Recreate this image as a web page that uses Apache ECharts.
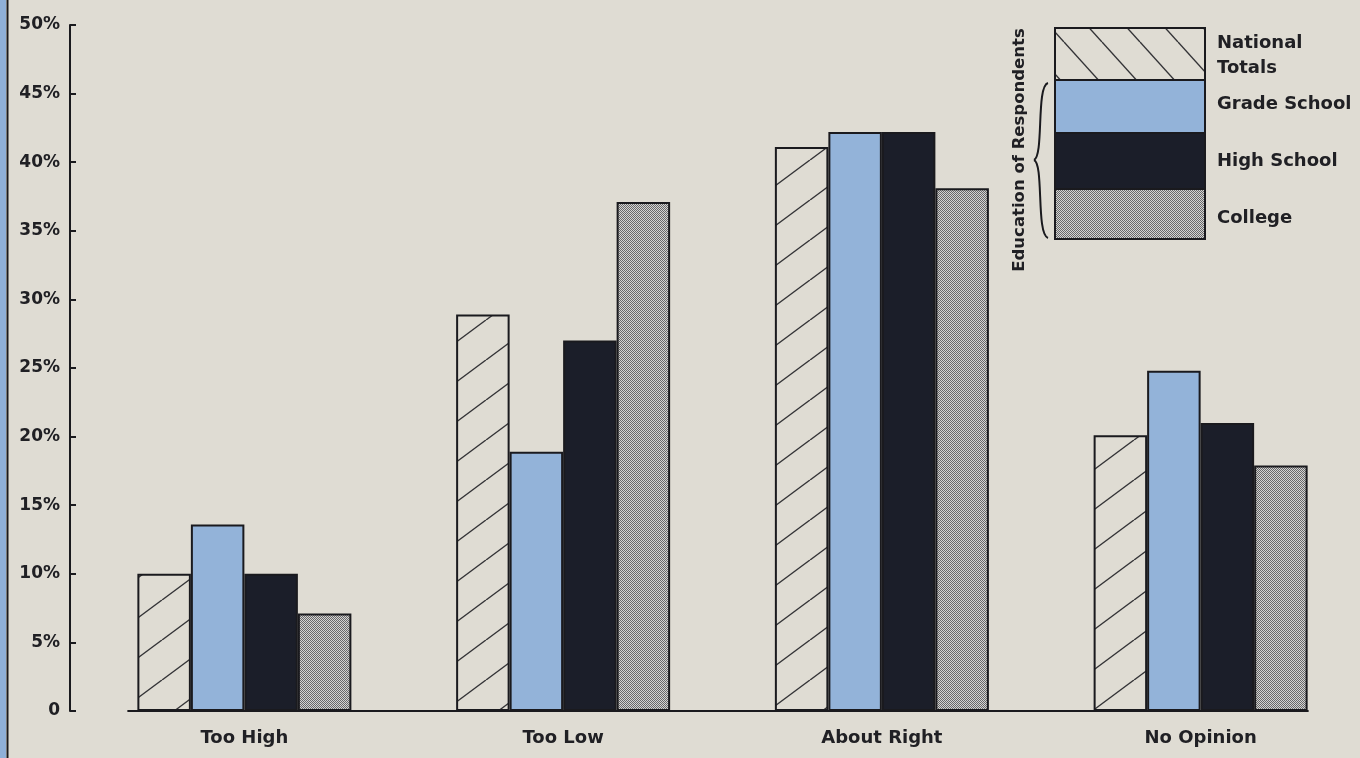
<!DOCTYPE html>
<html>
<head>
<meta charset="utf-8">
<script src="https://cdn.jsdelivr.net/npm/echarts@6/dist/echarts.min.js"></script>
<style>
html,body{margin:0;padding:0;background:#dfdcd3;}
#c{width:1360px;height:758px;}
</style>
</head>
<body>
<div id="c"></div>
<script>
const categories = ['Too High', 'Too Low', 'About Right', 'No Opinion'];
const seriesNames = ['National Totals', 'Grade School', 'High School', 'College'];
const nationalTotals = [10.0, 28.9, 41.1, 20.1];
const gradeSchool = [13.6, 18.9, 42.2, 24.8];
const highSchool = [10.0, 27.0, 42.2, 21.0];
const college = [7.1, 37.1, 38.1, 17.9];
const yMin = 0, yMax = 50, yStep = 5;
const legendLabels = [['National', 'Totals'], ['Grade School'], ['High School'], ['College']];
const legendSideTitle = 'Education of Respondents';

const BG = '#dfdcd3';
const BLUE = '#93b3d9';
const NAVY = '#1b1e29';
const INK = '#1a1a1e';
const TEXT = '#202024';
const FONT = 'bold 18px "DejaVu Sans"';

function hatch(w, h, dir) {
  const c = document.createElement('canvas');
  c.width = w; c.height = h;
  const g = c.getContext('2d');
  g.fillStyle = BG; g.fillRect(0, 0, w, h);
  g.strokeStyle = '#333336'; g.lineWidth = 1.4;
  for (const dx of [-w, 0, w]) {
    g.beginPath();
    if (dir === '/') { g.moveTo(dx, h); g.lineTo(dx + w, 0); }
    else { g.moveTo(dx, 0); g.lineTo(dx + w, h); }
    g.stroke();
  }
  return { image: c, repeat: 'repeat' };
}
function checker() {
  const c = document.createElement('canvas');
  c.width = 2; c.height = 2;
  const g = c.getContext('2d');
  g.fillStyle = '#d4d4d2'; g.fillRect(0, 0, 2, 2);
  g.fillStyle = '#68686a'; g.fillRect(0, 0, 1, 1); g.fillRect(1, 1, 1, 1);
  return { image: c, repeat: 'repeat' };
}

const fills = [hatch(54, 40, '/'), BLUE, NAVY, checker()];
const dataSets = [nationalTotals, gradeSchool, highSchool, college];

const chart = echarts.init(document.getElementById('c'), null, { renderer: 'canvas' });

const series = dataSets.map((d, i) => ({
  name: seriesNames[i],
  type: 'bar',
  data: d,
  barWidth: 53.5,
  barGap: '0%',
  itemStyle: { color: fills[i], borderColor: INK, borderWidth: 2 },
  emphasis: { disabled: true },
  silent: true
}));

// legend graphics
const legendFills = [hatch(38, 42, '\\'), BLUE, NAVY, checker()];
const legendRows = [[28, 52], [80, 53], [133, 56], [189, 50]];
const legendTextY = [[43, 68], [104], [161], [218]];
const graphics = [
  { type: 'rect', shape: { x: 0, y: 0, width: 6, height: 758 }, style: { fill: '#8fb0d8' }, silent: true },
  { type: 'line', shape: { x1: 7.5, y1: 0, x2: 7.5, y2: 758 }, style: { stroke: INK, lineWidth: 2 }, silent: true }
];
legendRows.forEach((r, i) => {
  graphics.push({ type: 'rect', shape: { x: 1055, y: r[0], width: 150, height: r[1] },
    style: { fill: legendFills[i], stroke: INK, lineWidth: 2 }, silent: true });
  legendLabels[i].forEach((t, j) => {
    graphics.push({ type: 'text', x: 1217, y: legendTextY[i][j],
      style: { text: t, font: FONT, fill: TEXT, textAlign: 'left', textVerticalAlign: 'middle' }, silent: true });
  });
});
graphics.push({ type: 'bezierCurve', shape: { x1: 1048, y1: 83, cpx1: 1036, cpy1: 86, cpx2: 1044, cpy2: 156, x2: 1034, y2: 160 },
  style: { stroke: INK, lineWidth: 2, fill: null }, silent: true });
graphics.push({ type: 'bezierCurve', shape: { x1: 1034, y1: 160, cpx1: 1044, cpy1: 164, cpx2: 1036, cpy2: 234, x2: 1048, y2: 238 },
  style: { stroke: INK, lineWidth: 2, fill: null }, silent: true });
graphics.push({ type: 'text', x: 1020, y: 150, rotation: Math.PI / 2,
  style: { text: legendSideTitle, font: 'bold 16.5px "DejaVu Sans"', fill: TEXT, textAlign: 'center', textVerticalAlign: 'middle' }, silent: true });

chart.setOption({
  animation: false,
  backgroundColor: BG,
  grid: { left: 85, top: 25, width: 1277, bottom: 47, containLabel: false },
  xAxis: {
    type: 'category',
    data: categories,
    axisLine: { show: false },
    axisTick: { show: false },
    axisLabel: { margin: 18, color: TEXT, fontFamily: 'DejaVu Sans', fontWeight: 'bold', fontSize: 18 }
  },
  yAxis: {
    type: 'value',
    min: yMin, max: yMax, interval: yStep,
    offset: 15,
    splitLine: { show: false },
    axisLine: { show: true, lineStyle: { color: INK, width: 2 } },
    axisTick: { show: true, inside: true, length: 6, lineStyle: { color: INK, width: 2 } },
    axisLabel: { margin: 10, color: TEXT, fontFamily: 'DejaVu Sans', fontWeight: 'bold', fontSize: 17,
      formatter: v => v === 0 ? '0' : v + '%' }
  },
  series: series,
  graphic: graphics
});

// baseline drawn through the chart's own scales
const xFirst = chart.convertToPixel({ xAxisIndex: 0 }, categories[0]);
const xLast = chart.convertToPixel({ xAxisIndex: 0 }, categories[categories.length - 1]);
const yZero = chart.convertToPixel({ yAxisIndex: 0 }, 0);
graphics.push({ type: 'line', shape: { x1: xFirst - 117, y1: yZero, x2: xLast + 108, y2: yZero },
  style: { stroke: INK, lineWidth: 2 }, silent: true, z: 10 });
chart.setOption({ graphic: graphics });
</script>
</body>
</html>
